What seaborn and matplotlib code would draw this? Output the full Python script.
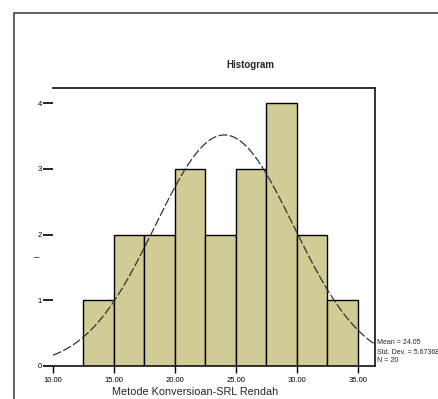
import numpy as np
import pandas as pd
import matplotlib
matplotlib.use("Agg")
import matplotlib.pyplot as plt
import seaborn as sns
from matplotlib.patches import Rectangle

# ---- data ----
bin_edges = [12.5, 15.0, 17.5, 20.0, 22.5, 25.0, 27.5, 30.0, 32.5, 35.0]
bin_counts = [1, 2, 2, 3, 2, 3, 4, 2, 1]
x_ticks = [10, 15, 20, 25, 30, 35]
x_tick_labels = ["10.00", "15.00", "20.00", "25.00", "30.00", "35.00"]
y_ticks = [0, 1, 2, 3, 4]
stat_mean = 24.05
stat_sd = 5.67368
stat_n = 20
title = "Histogram"
x_label = "Metode Konversioan-SRL Rendah"

sns.set_style("white")
plt.rcParams['font.family'] = ['Liberation Sans', 'DejaVu Sans']

fig = plt.figure(figsize=(4.39, 3.99), dpi=100)
ax = fig.add_axes([53/439, 1-366/399, (375-53)/439, (366-88)/399])

centers = [(a + b) / 2 for a, b in zip(bin_edges[:-1], bin_edges[1:])]
df = pd.DataFrame({"value": centers, "count": bin_counts})
sns.histplot(data=df, x="value", weights="count", bins=bin_edges, ax=ax,
             color="#D1CB96", edgecolor="black", linewidth=1.0, alpha=1.0)

# normal curve from stated mean / sd
bw = bin_edges[1] - bin_edges[0]
xs = np.linspace(10, 36.4, 300)
ys = stat_n * bw * np.exp(-0.5 * ((xs - stat_mean) / stat_sd) ** 2) / (stat_sd * np.sqrt(2 * np.pi))
sns.lineplot(x=xs, y=ys, ax=ax, color="#333333", linewidth=0.9, linestyle=(0, (7, 2)))

ax.set_xlim(10, 36.4)
ax.set_ylim(0, 4.23)
ax.set_xticks(x_ticks)
ax.set_xticklabels(x_tick_labels, fontsize=5.5)
ax.set_yticks(y_ticks)
ax.set_yticklabels([str(v) for v in y_ticks], fontsize=5.5)
ax.tick_params(axis='x', direction='out', length=5, width=1, pad=3, bottom=True, colors='black')
ax.tick_params(axis='y', direction='out', length=7, width=1.2, pad=1, left=True, colors='black')
ax.set_xlabel("")
ax.set_ylabel("")
for s in ['top', 'right', 'bottom']:
    ax.spines[s].set_visible(True)
    ax.spines[s].set_color('#222222')
    ax.spines[s].set_linewidth(1.3)
ax.spines['left'].set_visible(False)

fig.text(37/439, 1-257/399, "–", ha='center', va='center', fontsize=7)
fig.text(250/439, 1-65/399, title, ha='center', va='center', fontsize=7, fontweight='bold')
fig.text(112/439, 1-392/399, x_label, ha='left', va='center', fontsize=7.8, fontweight='medium')

stats = [f"Mean = {stat_mean:.2f}", f"Std. Dev. = {stat_sd:.5f}", f"N = {stat_n}"]
for i, t in enumerate(stats):
    fig.text(377/439, 1-(343 + 9*i)/399, t, ha='left', va='center', fontsize=5)

# outer frame
fig.patches.append(Rectangle((14/439, -0.1), 1.2, 1-13/399+0.1, transform=fig.transFigure,
                             fill=False, edgecolor='#555555', linewidth=1.3))

fig.savefig("out.png", dpi=100)
